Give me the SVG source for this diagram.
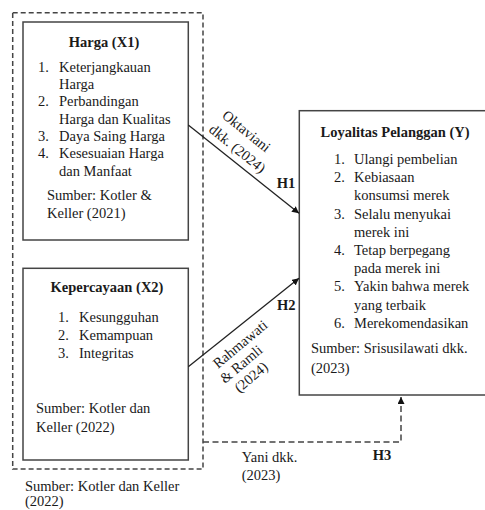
<svg xmlns="http://www.w3.org/2000/svg" width="485" height="510" viewBox="0 0 485 510">
<style>
  text { font-family: "Liberation Serif", "Tinos", "Times New Roman", "DejaVu Serif", serif; font-size: 14.5px; fill: #1a1a1a; }
  .b { font-weight: bold; }
  .box { fill: #fff; stroke: #444; stroke-width: 1.5; }
  .dash { fill: none; stroke: #444; stroke-width: 1.5; stroke-dasharray: 5 3; }
  .line { fill: none; stroke: #222; stroke-width: 1.3; }
</style>
<defs>
  <marker id="arr" viewBox="0 0 10 10" refX="10" refY="5" markerWidth="7" markerHeight="7" markerUnits="userSpaceOnUse" orient="auto">
    <path d="M0,0 L10,5 L0,10 z" fill="#111"/>
  </marker>
</defs>
<rect width="485" height="510" fill="#fff"/>

<g id="group-x">
  <rect class="dash" x="12.7" y="12.7" width="190.3" height="456.3"/>
  <text x="25" y="490.5">Sumber: Kotler dan Keller</text>
  <text x="25" y="506">(2022)</text>
</g>

<g id="x1">
  <rect class="box" x="23" y="22" width="165.3" height="218"/>
  <text class="b" x="104" y="47" text-anchor="middle">Harga (X1)</text>
  <text x="38" y="71.7">1.</text>
  <text x="59" y="71.7">Keterjangkauan</text>
  <text x="59" y="89">Harga</text>
  <text x="38" y="106.3">2.</text>
  <text x="59" y="106.3">Perbandingan</text>
  <text x="59" y="123.6">Harga dan Kualitas</text>
  <text x="38" y="140.9">3.</text>
  <text x="59" y="140.9">Daya Saing Harga</text>
  <text x="38" y="158.2">4.</text>
  <text x="59" y="158.2">Kesesuaian Harga</text>
  <text x="59" y="175.5">dan Manfaat</text>
  <text x="47" y="200">Sumber: Kotler &amp;</text>
  <text x="47" y="218">Keller (2021)</text>
</g>

<g id="x2">
  <rect class="box" x="23" y="268.3" width="165.3" height="191.7"/>
  <text class="b" x="107" y="292.3" text-anchor="middle">Kepercayaan (X2)</text>
  <text x="58" y="321.7">1.</text>
  <text x="79" y="321.7">Kesungguhan</text>
  <text x="58" y="340">2.</text>
  <text x="79" y="340">Kemampuan</text>
  <text x="58" y="358.3">3.</text>
  <text x="79" y="358.3">Integritas</text>
  <text x="36" y="413.3">Sumber: Kotler dan</text>
  <text x="36" y="431.7">Keller (2022)</text>
</g>

<g id="y">
  <rect class="box" x="299.3" y="110.7" width="190" height="284.3"/>
  <text class="b" x="395" y="136.7" text-anchor="middle">Loyalitas Pelanggan (Y)</text>
  <text x="334" y="164">1.</text>
  <text x="354" y="164">Ulangi pembelian</text>
  <text x="334" y="182.2">2.</text>
  <text x="354" y="182.2">Kebiasaan</text>
  <text x="354" y="200.4">konsumsi merek</text>
  <text x="334" y="218.6">3.</text>
  <text x="354" y="218.6">Selalu menyukai</text>
  <text x="354" y="236.8">merek ini</text>
  <text x="334" y="255">4.</text>
  <text x="354" y="255">Tetap berpegang</text>
  <text x="354" y="273.2">pada merek ini</text>
  <text x="334" y="291.4">5.</text>
  <text x="354" y="291.4">Yakin bahwa merek</text>
  <text x="354" y="309.6">yang terbaik</text>
  <text x="334" y="327.8">6.</text>
  <text x="354" y="327.8">Merekomendasikan</text>
  <text x="311" y="353.3">Sumber: Srisusilawati dkk.</text>
  <text x="311" y="373.3">(2023)</text>
</g>

<g id="connectors">
  <line class="line" x1="188.3" y1="125" x2="299" y2="213.3" marker-end="url(#arr)"/>
  <line class="line" x1="188.3" y1="366.7" x2="299" y2="278.3" marker-end="url(#arr)"/>
  <path class="dash" d="M203,442 L401,442 L401,397" marker-end="url(#arr)" style="stroke-dasharray:6 3.5"/>
  <text transform="translate(246.5,131) rotate(39)" y="5" text-anchor="middle">Oktaviani</text>
  <text transform="translate(237.5,148.5) rotate(39)" y="5" text-anchor="middle">dkk. (2024)</text>
  <text class="b" x="276.7" y="188.3">H1</text>
  <text transform="translate(240,344) rotate(-40)" y="5" text-anchor="middle">Rahmawati</text>
  <text transform="translate(241,364) rotate(-40)" y="5" text-anchor="middle">&amp; Ramli</text>
  <text transform="translate(251,377) rotate(-40)" y="5" text-anchor="middle">(2024)</text>
  <text class="b" x="277" y="310">H2</text>
  <text class="b" x="372.7" y="460">H3</text>
  <text x="241.7" y="461.7">Yani dkk.</text>
  <text x="241.7" y="480">(2023)</text>
</g>
</svg>
